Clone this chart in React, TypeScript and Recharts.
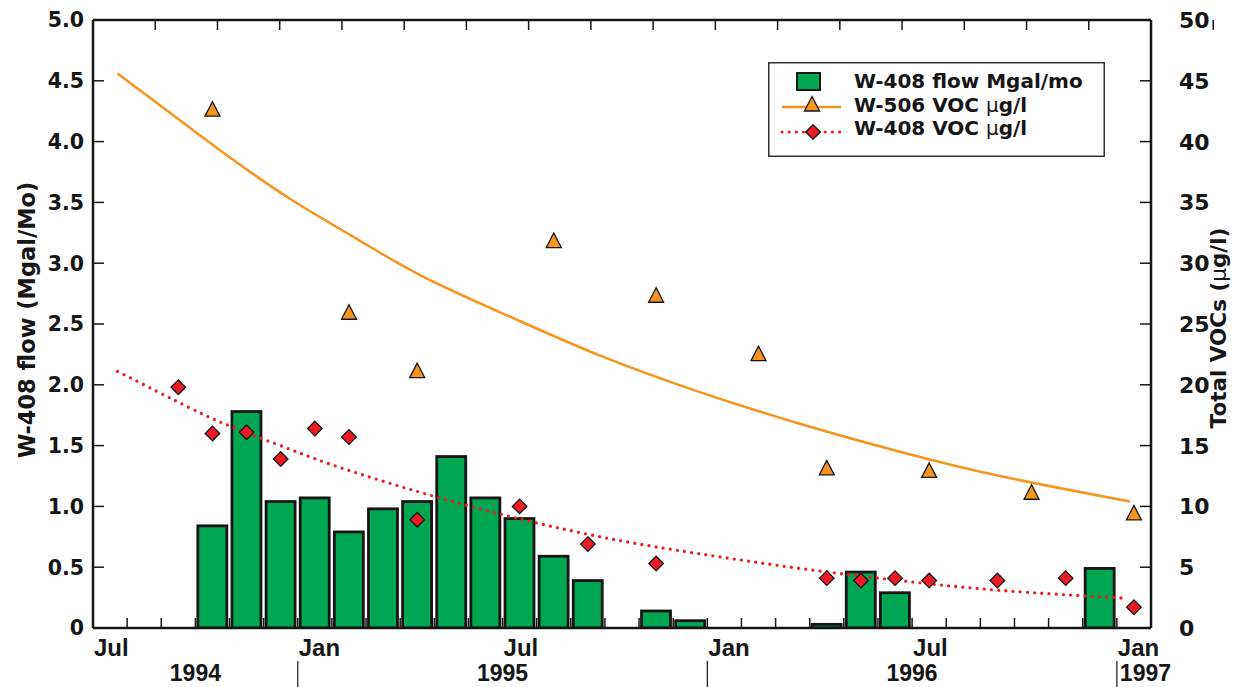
import React from 'react';
import { ComposedChart, Bar, Line, Scatter, XAxis, YAxis, Legend } from 'recharts';

// ---------- data (x = months since 1 Jul 1994) ----------
const flowMonths = ['1994-10', '1994-11', '1994-12', '1995-01', '1995-02', '1995-03', '1995-04', '1995-05', '1995-06', '1995-07', '1995-08', '1995-09', '1995-11', '1995-12', '1996-04', '1996-05', '1996-06', '1996-12'];
const flowValues = [0.84, 1.78, 1.04, 1.07, 0.79, 0.98, 1.04, 1.41, 1.07, 0.9, 0.59, 0.39, 0.14, 0.06, 0.03, 0.46, 0.29, 0.49];

const w506Months = ['1994-10', '1995-02', '1995-04', '1995-08', '1995-11', '1996-02', '1996-04', '1996-07', '1996-10', '1997-01'];
const w506Values = [42.5, 25.8, 21.0, 31.7, 27.2, 22.4, 13.0, 12.8, 11.0, 9.3];

const w408Months = ['1994-09', '1994-10', '1994-11', '1994-12', '1995-01', '1995-02', '1995-04', '1995-07', '1995-09', '1995-11', '1996-04', '1996-05', '1996-06', '1996-07', '1996-09', '1996-11', '1997-01'];
const w408Values = [19.8, 16.0, 16.1, 13.9, 16.4, 15.7, 8.9, 10.0, 6.9, 5.3, 4.1, 3.9, 4.1, 3.9, 3.9, 4.1, 1.7];

// fitted trend curves (x in months since 1 Jul 1994)
const w506TrendX = [0.72, 3.62, 5.77, 7.73, 9.67, 12.22, 14.86, 17.78, 20.71, 23.64, 26.57, 30.38];
const w506TrendY = [45.6, 39.5, 35.3, 32.0, 28.9, 25.6, 22.4, 19.4, 16.8, 14.5, 12.5, 10.4];
const w408TrendX = [0.72, 2.84, 4.11, 5.77, 7.24, 9.78, 12.61, 15.23, 17.78, 20.71, 23.64, 26.57, 30.29];
const w408TrendY = [21.1, 18.1, 16.5, 14.7, 13.2, 11.0, 8.9, 7.3, 6.1, 4.9, 3.9, 3.1, 2.44];

// axis labels
const monthLabelAt = [0, 6, 12, 18, 24, 30];
const monthLabelText = ['Jul', 'Jan', 'Jul', 'Jan', 'Jul', 'Jan'];
const yearLabelAt = [3, 12, 24, 30];
const yearLabelText = ['1994', '1995', '1996', '1997'];
const yearSeparatorAt = [6, 18, 30];
const leftTickValues = [0, 0.5, 1, 1.5, 2, 2.5, 3, 3.5, 4, 4.5, 5];
const leftTickLabels = ['0', '0.5', '1.0', '1.5', '2.0', '2.5', '3.0', '3.5', '4.0', '4.5', '5.0'];
const rightTickValues = [0, 5, 10, 15, 20, 25, 30, 35, 40, 45, 50];
const rightTickLabels = ['0', '5', '10', '15', '20', '25', '30', '35', '40', '45', '50'];
const monthTicks = [0, 1, 2, 3, 4, 5, 6, 7, 8, 9, 10, 11, 12, 13, 14, 15, 16, 17, 18, 19, 20, 21, 22, 23, 24, 25, 26, 27, 28, 29, 30, 31];

// ---------- helpers ----------
const monthIndex = (s: string) => {
  const [y, m] = s.split('-').map(Number);
  return (y - 1994) * 12 + (m - 7) + 0.5;
};

const flowData = flowMonths.map((s, i) => ({ m: monthIndex(s), v: flowValues[i] }));
const w506Data = w506Months.map((s, i) => ({ m: monthIndex(s), v: w506Values[i] }));
const w408Data = w408Months.map((s, i) => ({ m: monthIndex(s), v: w408Values[i] }));
const w506Trend = w506TrendX.map((m, i) => ({ m, t: w506TrendY[i] }));
const w408Trend = w408TrendX.map((m, i) => ({ m, t: w408TrendY[i] }));

const GREEN = '#00a651';
const ORANGE = '#f7941d';
const RED = '#ed1c24';
const INK = '#161616';
const WIDE = '"DejaVu Sans", Verdana, sans-serif';
const ARIAL = '"Liberation Sans", Arial, Helvetica, sans-serif';
const BAR_W = 29;

const Triangle = (p: any) => {
  const { cx, cy } = p;
  if (cx == null || cy == null) return null;
  return (
    <polygon
      points={`${cx},${cy - 9.5} ${cx - 7.5},${cy + 5} ${cx + 7.5},${cy + 5}`}
      fill={ORANGE}
      stroke={INK}
      strokeWidth={1.3}
    />
  );
};

const Diamond = (p: any) => {
  const { cx, cy } = p;
  if (cx == null || cy == null) return null;
  return (
    <polygon
      points={`${cx},${cy - 7.3} ${cx + 7.3},${cy} ${cx},${cy + 7.3} ${cx - 7.3},${cy}`}
      fill={RED}
      stroke={INK}
      strokeWidth={1.3}
    />
  );
};

// bar centred on the scale position of its month, fixed pixel width
const FlowBar = (p: any) => {
  const { x, y, width, height } = p;
  if (x == null || y == null || !height) return null;
  const cx = x + (width || 0) / 2;
  return <rect x={cx - BAR_W / 2} y={y} width={BAR_W} height={height} fill={GREEN} stroke={INK} strokeWidth={2.8} />;
};

const BottomTick = (p: any) => {
  const { x, y, payload } = p;
  const v = payload.value;
  const mi = monthLabelAt.indexOf(v);
  const yi = yearLabelAt.indexOf(v);
  const si = yearSeparatorAt.indexOf(v);
  return (
    <g>
      {v > 0 && v < 31 && <line x1={x} x2={x} y1={y} y2={y - 10} stroke={INK} strokeWidth={1.5} />}
      {mi >= 0 && (
        <text x={x + 1} y={y + 28} textAnchor="start" fontFamily={ARIAL} fontWeight="bold" fontSize={24} fill={INK}>
          {monthLabelText[mi]}
        </text>
      )}
      {si >= 0 && <line x1={x} x2={x} y1={y + 33} y2={y + 59} stroke={INK} strokeWidth={1.2} />}
      {yi >= 0 && (
        <text
          x={v === 30 ? x + 3 : x}
          y={y + 53}
          textAnchor={v === 30 ? 'start' : 'middle'}
          fontFamily={ARIAL}
          fontWeight="bold"
          fontSize={23}
          fill={INK}
        >
          {yearLabelText[yi]}
        </text>
      )}
    </g>
  );
};

const TopTick = (p: any) => {
  const { x, y, payload } = p;
  const v = payload.value;
  if (v <= 0 || v >= 31) return null;
  return <line x1={x} x2={x} y1={y} y2={y + 10} stroke={INK} strokeWidth={1.5} />;
};

const LeftTick = (p: any) => {
  const { x, y, payload } = p;
  const i = leftTickValues.indexOf(payload.value);
  return (
    <g>
      {payload.value > 0 && payload.value < 5 && <line x1={x} x2={x + 11} y1={y} y2={y} stroke={INK} strokeWidth={1.5} />}
      <text x={x - 9} y={y} dy="0.36em" textAnchor="end" fontFamily={WIDE} fontWeight="bold" fontSize={20.5} fill={INK}>
        {leftTickLabels[i]}
      </text>
    </g>
  );
};

const RightTick = (p: any) => {
  const { x, y, payload } = p;
  const i = rightTickValues.indexOf(payload.value);
  return (
    <g>
      {payload.value > 0 && payload.value < 50 && <line x1={x} x2={x - 11} y1={y} y2={y} stroke={INK} strokeWidth={1.5} />}
      <text x={x + 28} y={y} dy="0.36em" textAnchor="start" fontFamily={WIDE} fontWeight="bold" fontSize={22} fill={INK}>
        {rightTickLabels[i]}
      </text>
    </g>
  );
};

const LeftTitle = (p: any) => {
  const vb = p.viewBox || { x: 0, y: 20, width: 93, height: 608 };
  const cx = vb.x + 27;
  const cy = vb.y + vb.height / 2 - 4;
  return (
    <text x={cx} y={cy} dy="0.36em" transform={`rotate(-90 ${cx} ${cy})`} textAnchor="middle" fontFamily={WIDE} fontWeight="bold" fontSize={22.5} fill={INK}>
      W-408 flow (Mgal/Mo)
    </text>
  );
};

const RightTitle = (p: any) => {
  const vb = p.viewBox || { x: 1151, y: 20, width: 84, height: 608 };
  const cx = vb.x + 67;
  const cy = vb.y + vb.height / 2 + 4;
  return (
    <text x={cx} y={cy} dy="0.36em" transform={`rotate(-90 ${cx} ${cy})`} textAnchor="middle" fontFamily={WIDE} fontWeight="bold" fontSize={21.5} fill={INK}>
      Total VOCs (<tspan fontWeight="normal">µ</tspan>g/l)
    </text>
  );
};

const legendItems = ['W-408 flow Mgal/mo', 'W-506 VOC ', 'W-408 VOC '];

const LegendBox = () => (
  <svg width={337} height={95} style={{ display: 'block' }}>
    <rect x={0.75} y={0.75} width={335.5} height={93.5} fill="#fff" stroke="#333" strokeWidth={1.5} />
    <rect x={29} y={11} width={23} height={17} fill={GREEN} stroke={INK} strokeWidth={2} />
    <line x1={14} x2={73} y1={45} y2={45} stroke={ORANGE} strokeWidth={2.5} />
    <Triangle cx={44} cy={44} />
    <line x1={14} x2={73} y1={70} y2={70} stroke={RED} strokeWidth={3.2} strokeDasharray="0 7.2" strokeLinecap="round" />
    <Diamond cx={45} cy={70} />
    <text x={86} y={19} dy="0.36em" fontFamily={WIDE} fontWeight="bold" fontSize={20} fill={INK}>{legendItems[0]}</text>
    <text x={86} y={43} dy="0.36em" fontFamily={WIDE} fontWeight="bold" fontSize={20} fill={INK}>
      {legendItems[1]}<tspan fontWeight="normal">µ</tspan>g/l
    </text>
    <text x={86} y={66} dy="0.36em" fontFamily={WIDE} fontWeight="bold" fontSize={20} fill={INK}>
      {legendItems[2]}<tspan fontWeight="normal">µ</tspan>g/l
    </text>
  </svg>
);

export default function App() {
  return (
    <div style={{ position: 'absolute', left: 0, top: 0, width: 1235, height: 687, background: '#fff' }}>
      <ComposedChart width={1235} height={687} data={flowData} margin={{ top: 0, right: 0, bottom: 0, left: 0 }}>
        <XAxis
          dataKey="m"
          type="number"
          domain={[0, 31]}
          ticks={monthTicks}
          interval={0}
          allowDataOverflow
          height={59}
          tickSize={0}
          tickMargin={0}
          tickLine={false}
          axisLine={{ stroke: INK, strokeWidth: 2.5 }}
          tick={<BottomTick />}
        />
        <XAxis
          xAxisId="top"
          orientation="top"
          type="number"
          domain={[0, 31]}
          ticks={monthTicks}
          interval={0}
          allowDataOverflow
          height={20}
          tickSize={0}
          tickMargin={0}
          tickLine={false}
          axisLine={{ stroke: INK, strokeWidth: 2.5 }}
          tick={<TopTick />}
        />
        <YAxis
          yAxisId="left"
          orientation="left"
          type="number"
          domain={[0, 5]}
          ticks={leftTickValues}
          interval={0}
          allowDataOverflow
          width={93}
          tickSize={0}
          tickMargin={0}
          tickLine={false}
          axisLine={{ stroke: INK, strokeWidth: 2.5 }}
          tick={<LeftTick />}
          label={<LeftTitle />}
        />
        <YAxis
          yAxisId="right"
          orientation="right"
          type="number"
          domain={[0, 50]}
          ticks={rightTickValues}
          interval={0}
          allowDataOverflow
          width={84}
          tickSize={0}
          tickMargin={0}
          tickLine={false}
          axisLine={{ stroke: INK, strokeWidth: 2.5 }}
          tick={<RightTick />}
          label={<RightTitle />}
        />
        <Bar yAxisId="left" dataKey="v" barSize={BAR_W} fill={GREEN} stroke={INK} strokeWidth={2.8} shape={<FlowBar />} isAnimationActive={false} />
        <Line
          yAxisId="right"
          data={w506Trend}
          dataKey="t"
          type="natural"
          stroke={ORANGE}
          strokeWidth={2.5}
          dot={false}
          activeDot={false}
          isAnimationActive={false}
        />
        <Line
          yAxisId="right"
          data={w408Trend}
          dataKey="t"
          type="natural"
          stroke={RED}
          strokeWidth={3.3}
          strokeDasharray="0 7.2"
          strokeLinecap="round"
          dot={false}
          activeDot={false}
          isAnimationActive={false}
        />
        <Scatter yAxisId="right" data={w506Data} dataKey="v" shape={<Triangle />} isAnimationActive={false} />
        <Scatter yAxisId="right" data={w408Data} dataKey="v" shape={<Diamond />} isAnimationActive={false} />
        <Legend
          layout="vertical"
          align="center"
          verticalAlign="middle"
          content={() => <LegendBox />}
          wrapperStyle={{ left: 768, top: 62, width: 337, height: 95 }}
        />
      </ComposedChart>
    </div>
  );
}
